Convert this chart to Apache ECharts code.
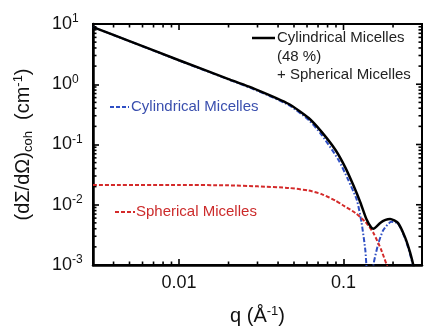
<!DOCTYPE html>
<html>
<head>
<meta charset="utf-8">
<script src="https://cdn.jsdelivr.net/npm/echarts@6.0.0/dist/echarts.min.js"></script>
<style>
    html, body {margin: 0; padding: 0; background: #fff;}
    #chart {width: 424px; height: 335px;}
</style>
</head>
<body>
<div id="chart"></div>
<script>
// 总散射曲线（圆柱胶束48% + 球形胶束）
var qTotal = [0.003, 0.005, 0.01, 0.02, 0.03, 0.0465, 0.0614, 0.0736, 0.0894, 0.1028, 0.115, 0.1268, 0.1377, 0.1474, 0.152, 0.167, 0.18, 0.192, 0.2142, 0.2364, 0.2541, 0.2697, 0.28];
var iTotal = [8.9, 5.2, 2.5, 1.22, 0.80, 0.47, 0.275, 0.162, 0.081, 0.041, 0.0208, 0.0108, 0.0058, 0.0042, 0.0040, 0.0050, 0.0056, 0.0058, 0.0050, 0.0029, 0.0016, 0.00083, 0.0005];
// 圆柱胶束
var qCyl = [0.003, 0.005, 0.01, 0.02, 0.03, 0.0465, 0.0614, 0.0736, 0.0934, 0.1068, 0.1205, 0.1288, 0.1357, 0.1377, 0.144, 0.152, 0.163, 0.1746, 0.195, 0.2142, 0.2364, 0.2541, 0.2697, 0.28];
var iCyl = [8.88, 5.18, 2.48, 1.20, 0.78, 0.45, 0.255, 0.145, 0.055, 0.0258, 0.012, 0.0050, 0.00177, 0.0010, 0.0002, 0.0010, 0.0023, 0.0038, 0.0052, 0.0049, 0.0028, 0.0015, 0.0008, 0.0005];
// 球形胶束
var qSph = [0.003, 0.01, 0.02, 0.03, 0.0465, 0.0614, 0.0736, 0.0894, 0.0987, 0.1181, 0.1357, 0.152, 0.1697, 0.1875];
var iSph = [0.0213, 0.0213, 0.021, 0.0202, 0.0190, 0.0172, 0.0150, 0.0117, 0.0099, 0.0073, 0.0052, 0.0034, 0.00177, 0.00083];

// 刻度（对数坐标，数值为原值）
var xLabels = [0.01, 0.1];
var yLabels = [0.001, 0.01, 0.1, 1, 10];
var xMin = 0.003, xMax = 0.3, yMin = 0.001, yMax = 10;

var lg = Math.log10;

function minorTicks(from, to) {
    var arr = [];
    for (var d = from; d < to; d++) {
        for (var k = 2; k <= 9; k++) {
            arr.push(k * Math.pow(10, d));
        }
    }
    return arr;
}
var xMinor = minorTicks(-3, 0).filter(function (v) { return v > xMin * 1.0001 && v < xMax * 0.9999; });
var yMinor = minorTicks(-3, 1);

// 坐标轴按 log10 取值
function pairs(xs, ys) {
    var out = [];
    for (var i = 0; i < xs.length; i++) {
        out.push([lg(xs[i]), lg(ys[i])]);
    }
    return out;
}
function logs(arr) {
    return arr.map(lg);
}

var font = '"Liberation Sans", Arial, sans-serif';
var frame = {color: '#000', width: 2.5};

// x 方向刻度：底部(次刻度)与顶部(主+次)
function xTickSeries(vals, len, bottom) {
    return {
        name: 'xTicks', type: 'custom',
        data: vals.map(function (v) { return [lg(v), lg(yMin)]; }),
        renderItem: function (params, api) {
            var a = api.coord([api.value(0), lg(yMin)]);
            var b = api.coord([api.value(0), lg(yMax)]);
            var items = [
                {type: 'line', shape: {x1: b[0], y1: b[1], x2: b[0], y2: b[1] + len}, style: {stroke: '#000', lineWidth: 1.6}}
            ];
            if (bottom) {
                items.push({type: 'line', shape: {x1: a[0], y1: a[1], x2: a[0], y2: a[1] - len}, style: {stroke: '#000', lineWidth: 1.6}});
            }
            return {type: 'group', children: items};
        }
    };
}

var myChart = echarts.init(document.getElementById('chart'));
var option = {
    animation: false,
    backgroundColor: '#fff',
    grid: {left: 93, top: 24, right: 2, bottom: 70, show: true, borderColor: '#000', borderWidth: 2},
    xAxis: {
        type: 'value', min: lg(xMin), max: lg(xMax),
        axisLine: {show: true, onZero: false, lineStyle: frame}, splitLine: {show: false},
        axisTick: {show: true, inside: true, length: 6, lineStyle: {color: '#000', width: 1.6}, customValues: logs(xLabels)},
        axisLabel: {
            customValues: logs(xLabels), margin: 9, color: '#111', fontSize: 18, fontFamily: font,
            formatter: function (v) { return String(+Math.pow(10, v).toPrecision(1)); }
        },
        name: 'q (Å{sup|-1})',
        nameLocation: 'middle', nameGap: 40,
        nameTextStyle: {
            color: '#111', fontSize: 20, fontFamily: font,
            rich: {sup: {fontSize: 13, fontFamily: font, color: '#111', padding: [0, 0, 10, 0]}}
        }
    },
    yAxis: {
        type: 'value', min: lg(yMin), max: lg(yMax),
        axisLine: {show: true, onZero: false, lineStyle: frame}, splitLine: {show: false},
        axisTick: {show: true, inside: true, length: 6, lineStyle: {color: '#000', width: 1.6}, customValues: logs(yLabels)},
        axisLabel: {
            customValues: logs(yLabels), margin: 41, align: 'left', color: '#111', fontSize: 18, fontFamily: font,
            formatter: function (v) { return '10{sup|' + Math.round(v) + '}'; },
            rich: {sup: {fontSize: 12, fontFamily: font, color: '#111', padding: [0, 0, 10, 0]}}
        },
        name: '(dΣ/dΩ){sub|coh}  (cm{sup|-1})',
        nameLocation: 'middle', nameRotate: 90, nameGap: 58,
        nameTextStyle: {
            color: '#111', fontSize: 20, fontFamily: font,
            rich: {
                sub: {fontSize: 13, fontFamily: font, color: '#111', padding: [10, 0, 0, 0]},
                sup: {fontSize: 13, fontFamily: font, color: '#111', padding: [0, 0, 10, 0]}
            }
        }
    },
    series: [
        {
            name: 'Cylindrical Micelles', type: 'line', showSymbol: false, smooth: 0.2,
            data: pairs(qCyl, iCyl),
            lineStyle: {color: '#2f4fc4', width: 2, type: [5, 2, 1.5, 2]}
        },
        {
            name: 'Spherical Micelles', type: 'line', showSymbol: false, smooth: 0.2,
            data: pairs(qSph, iSph),
            lineStyle: {color: '#d42a2a', width: 2, type: [4, 2]}
        },
        {
            name: 'Total', type: 'line', showSymbol: false, smooth: 0.2,
            data: pairs(qTotal, iTotal),
            lineStyle: {color: '#000', width: 2.5}
        },
        xTickSeries(xLabels, 6, false),
        xTickSeries(xMinor, 3.5, true)
    ]
};
myChart.setOption(option, true);

// y 方向次刻度与右侧刻度，用坐标换算得到位置
var g = [
    {type: 'line', shape: {x1: 252, y1: 38, x2: 275, y2: 38}, style: {stroke: '#000', lineWidth: 2.5}},
    {type: 'text', style: {x: 277, y: 29, text: 'Cylindrical Micelles\n(48 %)\n+ Spherical Micelles', font: '15px ' + font, fill: '#222', lineHeight: 18.5}},
    {type: 'line', shape: {x1: 110, y1: 107, x2: 129, y2: 107}, style: {stroke: '#2f4fc4', lineWidth: 2, lineDash: [4, 2]}},
    {type: 'text', style: {x: 131, y: 107, text: 'Cylindrical Micelles', font: '15px ' + font, fill: '#3a4fae', verticalAlign: 'middle'}},
    {type: 'line', shape: {x1: 115, y1: 212, x2: 135, y2: 212}, style: {stroke: '#d42a2a', lineWidth: 2, lineDash: [4, 2]}},
    {type: 'text', style: {x: 136, y: 212, text: 'Spherical Micelles', font: '15px ' + font, fill: '#cc2b2b', verticalAlign: 'middle'}}
];
function addYTicks(vals, len, left) {
    vals.forEach(function (v) {
        var a = myChart.convertToPixel({gridIndex: 0}, [lg(xMin), lg(v)]);
        var b = myChart.convertToPixel({gridIndex: 0}, [lg(xMax), lg(v)]);
        if (left) {
            g.push({type: 'line', shape: {x1: a[0], y1: a[1], x2: a[0] + len, y2: a[1]}, style: {stroke: '#000', lineWidth: 1.6}});
        }
        g.push({type: 'line', shape: {x1: b[0], y1: b[1], x2: b[0] - len, y2: b[1]}, style: {stroke: '#000', lineWidth: 1.6}});
    });
}
addYTicks(yLabels, 6, false);
addYTicks(yMinor, 3.5, true);
myChart.setOption({graphic: g});
</script>
</body>
</html>
